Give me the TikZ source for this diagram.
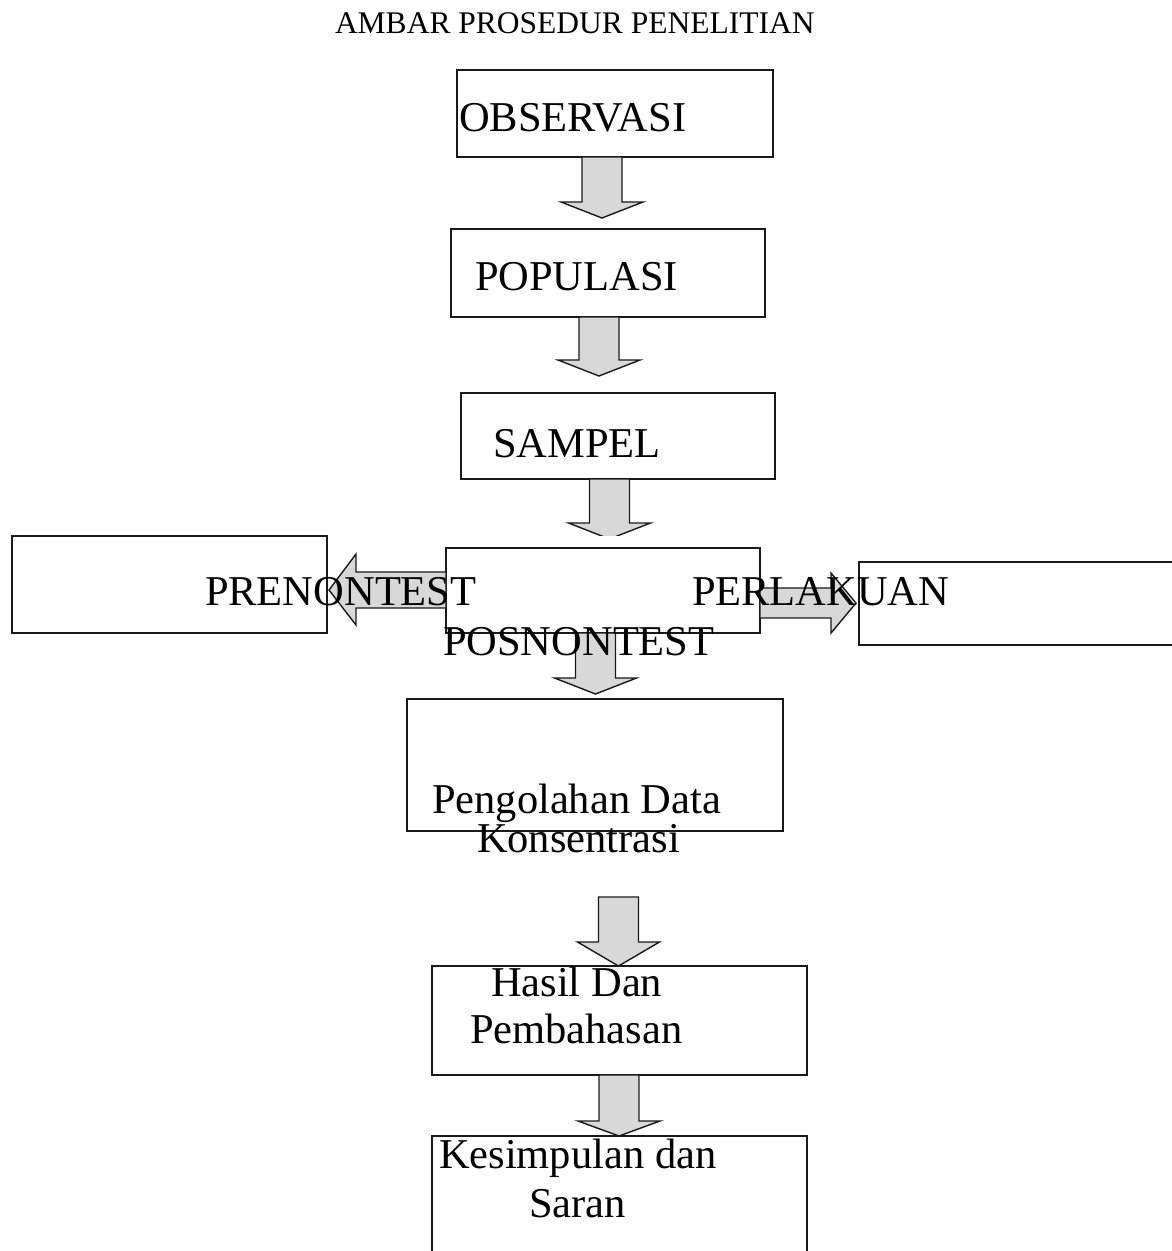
\documentclass[tikz,border=0pt]{standalone}
\usepackage{fontspec}
\setmainfont{Liberation Serif}
\definecolor{arrowfill}{HTML}{D8D8D8}
\definecolor{lineblack}{HTML}{1A1A1A}
\newcommand\blockdown[4]{%
  \draw[blockarrow] ({#1-20},#2) -- ({#1-20},#3) -- ({#1-41},#3) -- (#1,#4)
    -- ({#1+41},#3) -- ({#1+20},#3) -- ({#1+20},#2) -- cycle;}
\begin{document}
\begin{tikzpicture}[x=1pt,y=-1pt,
  box/.style={draw=lineblack, line width=1.8pt, inner sep=0pt, outer sep=0pt, anchor=north west},
  openbox/.style={draw=lineblack, line width=1.8pt},
  blockarrow/.style={draw=lineblack, line width=1.4pt, fill=arrowfill, line join=miter},
  txt/.style={font=\fontsize{42.5}{48}\selectfont, inner sep=0pt, outer sep=0pt, anchor=base west},
  ttl/.style={font=\fontsize{31.5}{36}\selectfont, inner sep=0pt, outer sep=0pt, anchor=base west}]
\useasboundingbox (0,0) rectangle (1171,1251);
\fill[white] (0,0) rectangle (1171,1251);

% title
\node[ttl] (title) at (335,33) {AMBAR PROSEDUR PENELITIAN};

% boxes
\node[box, minimum width=316pt, minimum height=87pt] (b1) at (457,70) {};
\node[box, minimum width=314pt, minimum height=88pt] (b2) at (451,229) {};
\node[box, minimum width=314pt, minimum height=86pt] (b3) at (461,393) {};
\node[box, minimum width=314pt, minimum height=85pt] (b4) at (446,548) {};
\node[box, minimum width=315pt, minimum height=97pt] (bl) at (12,536) {};
\draw[openbox] (1172,562) -- (859,562) -- (859,645) -- (1172,645);
\node[box, minimum width=376pt, minimum height=132pt] (b5) at (407,699) {};
\node[box, minimum width=375pt, minimum height=109pt] (b6) at (432,966) {};
\draw[openbox] (432,1252) -- (432,1136) -- (807,1136) -- (807,1252);

% block arrows (down)
\blockdown{602}{157}{202}{218}
\blockdown{599}{317}{360}{376}
\begin{scope}
  \clip (0,0) rectangle (1171,535);
  \blockdown{609.5}{479}{523}{539}
\end{scope}
\blockdown{595.5}{633}{678}{694}
\blockdown{618.5}{897}{942}{966}
\blockdown{619}{1075}{1121}{1136}

% left arrow
\draw[blockarrow] (446,572) -- (356,572) -- (356,554) -- (329,590) -- (356,625)
  -- (356,608) -- (446,608) -- cycle;
% right arrow
\draw[blockarrow] (760,588) -- (831,588) -- (831,573) -- (856,603) -- (831,633)
  -- (831,618) -- (760,618) -- cycle;

% texts
\node[txt] (t1) at (459,131) {OBSERVASI};
\node[txt] (t2) at (475,290) {POPULASI};
\node[txt] (t3) at (493,457) {SAMPEL};
\node[txt] (t4) at (205,605) {PRENONTEST};
\node[txt] (t5) at (692,605) {PERLAKUAN};
\node[txt] (t6) at (443,655) {POSNONTEST};
\node[txt] (t7) at (432,813) {Pengolahan Data};
\node[txt] (t8) at (477,852) {Konsentrasi};
\node[txt] (t9) at (491,996) {Hasil Dan};
\node[txt] (t10) at (470,1043) {Pembahasan};
\node[txt] (t11) at (439,1168) {Kesimpulan dan};
\node[txt] (t12) at (529,1217) {Saran};
\end{tikzpicture}
\end{document}
